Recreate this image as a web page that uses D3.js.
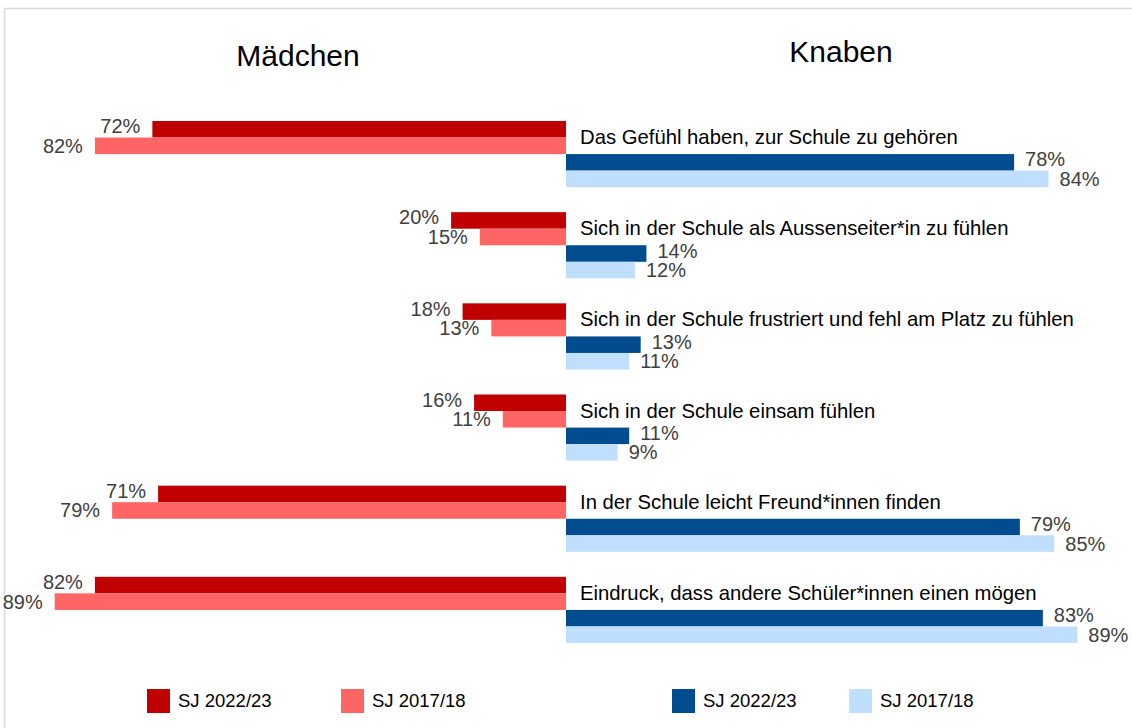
<!DOCTYPE html>
<html>
<head>
<meta charset="utf-8">
<script src="https://cdn.jsdelivr.net/npm/d3@7"></script>
<style>
  html, body { margin: 0; padding: 0; background: #fff; }
  svg { display: block; font-family: "Liberation Sans", Arial, sans-serif; }
</style>
</head>
<body>
<svg id="chart" width="1132" height="728"></svg>
<script>
// ---- data ----
const categories = [
  'Das Gefühl haben, zur Schule zu gehören',
  'Sich in der Schule als Aussenseiter*in zu fühlen',
  'Sich in der Schule frustriert und fehl am Platz zu fühlen',
  'Sich in der Schule einsam fühlen',
  'In der Schule leicht Freund*innen finden',
  'Eindruck, dass andere Schüler*innen einen mögen'
];
const girls2223 = [72, 20, 18, 16, 71, 82];
const girls1718 = [82, 15, 13, 11, 79, 89];
const boys2223  = [78, 14, 13, 11, 79, 83];
const boys1718  = [84, 12, 11, 9, 85, 89];
const seriesKeys = ['g22', 'g17', 'b22', 'b17'];
const legendLabels = ['SJ 2022/23', 'SJ 2017/18', 'SJ 2022/23', 'SJ 2017/18'];
const panelTitles = ['Mädchen', 'Knaben'];

const colors = { g22: '#c00000', g17: '#ff6565', b22: '#004c8f', b17: '#c0dfff' };

const svg = d3.select('#chart');
const axisX = 566;

// frame (light grey border, cut off at right/bottom like the source)
svg.append('rect')
  .attr('x', 4.5).attr('y', 8.5)
  .attr('width', 1140).attr('height', 740)
  .attr('fill', 'none').attr('stroke', '#d9d9d9').attr('stroke-width', 1.5);

// scales
const x = d3.scaleLinear().domain([0, 100]).range([0, 574.5]);
const y = d3.scaleBand().domain(categories).range([108.5, 655.5])
  .paddingInner(0.274).paddingOuter(0.137);
const ySub = d3.scaleBand().domain(seriesKeys).range([0, y.bandwidth()]);

const rows = categories.map((c, i) => ({
  cat: c,
  g22: girls2223[i], g17: girls1718[i], b22: boys2223[i], b17: boys1718[i]
}));

// panel titles
svg.append('text').attr('x', 298).attr('y', 66)
  .attr('text-anchor', 'middle').attr('font-size', 30).attr('fill', '#000')
  .text(panelTitles[0]);
svg.append('text').attr('x', 841).attr('y', 62)
  .attr('text-anchor', 'middle').attr('font-size', 30).attr('fill', '#000')
  .text(panelTitles[1]);

const gBars = svg.append('g');
const gLabels = svg.append('g');

rows.forEach(r => {
  const y0 = y(r.cat);
  seriesKeys.forEach(k => {
    const v = r[k];
    const isGirl = k[0] === 'g';
    const w = x(v);
    const by = y0 + ySub(k);
    const bh = ySub.bandwidth();
    gBars.append('rect')
      .attr('x', isGirl ? axisX - w : axisX)
      .attr('y', by)
      .attr('width', w)
      .attr('height', bh)
      .attr('fill', colors[k]);

    // value label: top bar of each pair sits a bit higher
    const lift = k.endsWith('22') ? 3 : 0;
    gLabels.append('text')
      .attr('x', isGirl ? axisX - w - 12 : axisX + w + 11)
      .attr('y', by + bh / 2 - lift)
      .attr('dy', '0.35em')
      .attr('text-anchor', isGirl ? 'end' : 'start')
      .attr('font-size', 20)
      .attr('fill', '#404040')
      .text(v + '%');
  });

  // category label between the two halves
  gLabels.append('text')
    .attr('x', 580)
    .attr('y', y0 + ySub.bandwidth() - 0.5)
    .attr('dy', '0.35em')
    .attr('font-size', 20.3)
    .attr('fill', '#000')
    .text(r.cat);
});

// legend
const legendX = [147, 341, 672, 849];
const legend = svg.append('g');
seriesKeys.forEach((k, i) => {
  legend.append('rect')
    .attr('x', legendX[i]).attr('y', 689)
    .attr('width', 23).attr('height', 24)
    .attr('fill', colors[k]);
  legend.append('text')
    .attr('x', legendX[i] + 31).attr('y', 701)
    .attr('dy', '0.35em')
    .attr('font-size', 18.5).attr('fill', '#000')
    .text(legendLabels[i]);
});
</script>
</body>
</html>
